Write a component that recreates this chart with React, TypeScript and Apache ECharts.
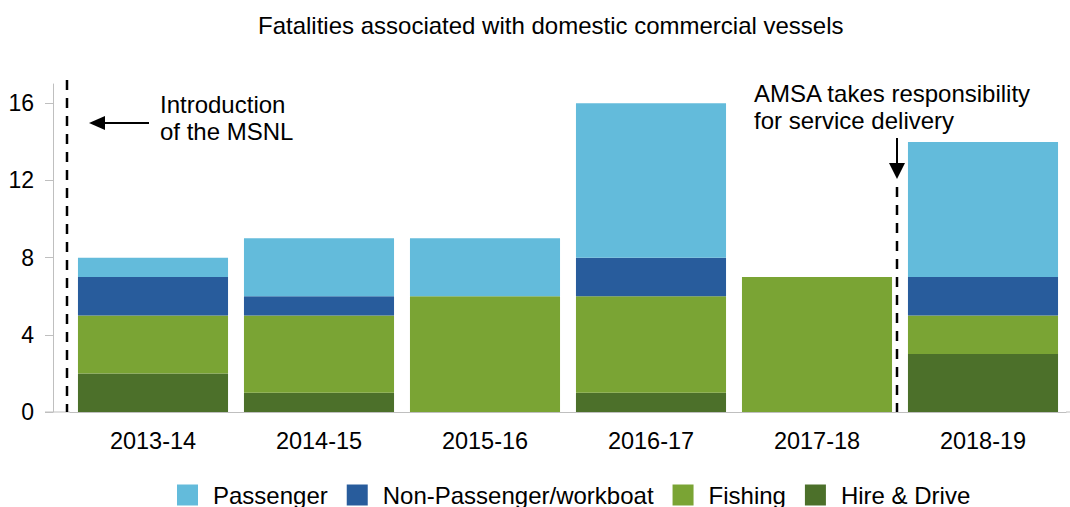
import React, { useEffect, useRef } from "react";
import * as echarts from "echarts";

const categories = ["2013-14", "2014-15", "2015-16", "2016-17", "2017-18", "2018-19"];
const hireDrive = [2, 1, 0, 1, 0, 3];
const fishing = [3, 4, 6, 5, 7, 2];
const nonPassenger = [2, 1, 0, 2, 0, 2];
const passenger = [1, 3, 3, 8, 0, 7];
const legendOrder = ["Passenger", "Non-Passenger/workboat", "Fishing", "Hire & Drive"];
const titleText = "Fatalities associated with domestic commercial vessels";

const FONT = "'Liberation Sans', Arial, sans-serif";
const AXIS_GRAY = "#BFBFBF";

export default function App() {
  const ref = useRef<HTMLDivElement>(null);
  useEffect(() => {
    document.body.style.margin = "0";
    if (!ref.current) return;
    const chart = echarts.init(ref.current, undefined, { renderer: "svg" });
    const bar = (name: string, data: number[], color: string) => ({
      name,
      type: "bar",
      stack: "total",
      data,
      barCategoryGap: "9.6%",
      itemStyle: { color },
    });
    chart.setOption({
      animation: false,
      textStyle: { fontFamily: FONT },
      title: {
        text: titleText,
        left: 253,
        top: 8,
        textStyle: { fontSize: 24, fontWeight: "normal", color: "#000", fontFamily: FONT },
      },
      grid: { left: 70, right: 4, top: 84, bottom: 95, containLabel: false },
      legend: {
        data: legendOrder,
        left: 172,
        top: 478,
        icon: "rect",
        itemWidth: 21,
        itemHeight: 21,
        itemGap: 19,
        textStyle: { fontSize: 24, color: "#000", fontFamily: FONT, padding: [0, 0, 0, 10] },
      },
      xAxis: {
        type: "category",
        data: categories,
        axisLine: { show: true, lineStyle: { color: AXIS_GRAY, width: 1 } },
        axisTick: { show: false },
        axisLabel: { fontSize: 23.5, color: "#000", margin: 17, fontFamily: FONT },
      },
      yAxis: {
        type: "value",
        min: 0,
        max: 17,
        interval: 4,
        offset: 17,
        axisLine: { show: true, lineStyle: { color: AXIS_GRAY, width: 1 } },
        axisTick: { show: true, length: 8, lineStyle: { color: AXIS_GRAY } },
        splitLine: { show: false },
        axisLabel: { fontSize: 23, color: "#000", margin: 19, fontFamily: FONT },
      },
      series: [
        bar("Hire & Drive", hireDrive, "#4C702A"),
        bar("Fishing", fishing, "#7AA434"),
        bar("Non-Passenger/workboat", nonPassenger, "#285C9C"),
        bar("Passenger", passenger, "#63BBDB"),
      ],
      graphic: [
        { type: "line", shape: { x1: 45, y1: 412, x2: 70, y2: 412 }, style: { stroke: AXIS_GRAY, lineWidth: 1 } },
        { type: "line", shape: { x1: 1066, y1: 412, x2: 1070, y2: 412 }, style: { stroke: AXIS_GRAY, lineWidth: 1 } },
        { type: "line", shape: { x1: 67, y1: 80, x2: 67, y2: 412 }, style: { stroke: "#000", lineWidth: 2.5, lineDash: [10, 8] } },
        { type: "line", shape: { x1: 897, y1: 187, x2: 897, y2: 412 }, style: { stroke: "#000", lineWidth: 2.5, lineDash: [10, 8] } },
        { type: "line", shape: { x1: 149, y1: 123, x2: 102, y2: 123 }, style: { stroke: "#000", lineWidth: 2 } },
        { type: "polygon", shape: { points: [[89, 123], [105, 116], [105, 130]] }, style: { fill: "#000" } },
        { type: "line", shape: { x1: 897, y1: 138, x2: 897, y2: 166 }, style: { stroke: "#000", lineWidth: 2 } },
        { type: "polygon", shape: { points: [[897, 179], [889, 163], [905, 163]] }, style: { fill: "#000" } },
        {
          type: "text",
          x: 160,
          y: 91,
          style: { text: "Introduction\nof the MSNL", font: `24px ${FONT}`, lineHeight: 27, fill: "#000" },
        },
        {
          type: "text",
          x: 754,
          y: 80,
          style: { text: "AMSA takes responsibility\nfor service delivery", font: `24px ${FONT}`, lineHeight: 27, fill: "#000" },
        },
      ],
    });
    return () => chart.dispose();
  }, []);
  return <div ref={ref} style={{ width: 1070, height: 507 }} />;
}
